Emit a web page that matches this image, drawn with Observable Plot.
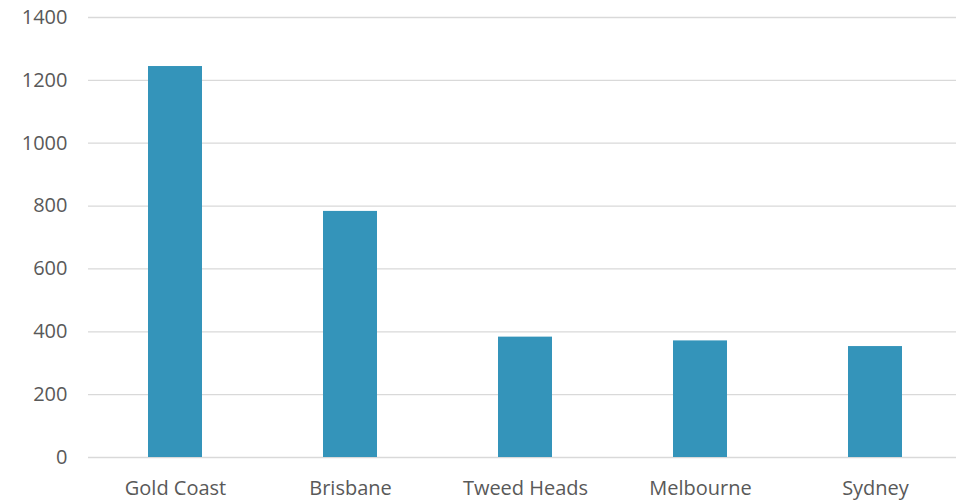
<!DOCTYPE html>
<html>
<head>
<meta charset="utf-8">
<script src="https://cdn.jsdelivr.net/npm/d3@7"></script>
<script src="https://cdn.jsdelivr.net/npm/@observablehq/plot@0.6"></script>
<style>
  html, body { margin: 0; padding: 0; background: #ffffff; }
  #chart svg { display: block; }
</style>
</head>
<body>
<div id="chart"></div>
<script>
// Visitor origin by city
const cities = ["Gold Coast", "Brisbane", "Tweed Heads", "Melbourne", "Sydney"];
const counts = [1244, 783, 383, 371, 353];
const yTicks = [0, 200, 400, 600, 800, 1000, 1200, 1400];

const data = cities.map((city, i) => ({city, count: counts[i]}));

const chart = Plot.plot({
  width: 956,
  height: 502,
  marginTop: 17,
  marginBottom: 45,
  marginLeft: 88,
  marginRight: 0,
  style: {fontFamily: "'Open Sans', sans-serif", fontSize: "20px", color: "#595959", background: "#ffffff"},
  x: {domain: cities, range: [87.5, 962.5], paddingInner: 0.69, paddingOuter: 0.345, label: null},
  y: {domain: [0, 1400], label: null},
  marks: [
    Plot.ruleY(yTicks, {stroke: "#d9d9d9", strokeWidth: 1.3}),
    Plot.barY(data, {x: "city", y: "count", fill: "#3494ba"}),
    Plot.axisY(yTicks, {tickSize: 0, tickPadding: 21, tickFormat: d3.format("d"), label: null, fill: "#595959", fontSize: 20}),
    Plot.axisX({tickSize: 0, tickPadding: 23, label: null, fill: "#595959", fontSize: 20})
  ]
});

document.getElementById("chart").appendChild(chart);
</script>
</body>
</html>
